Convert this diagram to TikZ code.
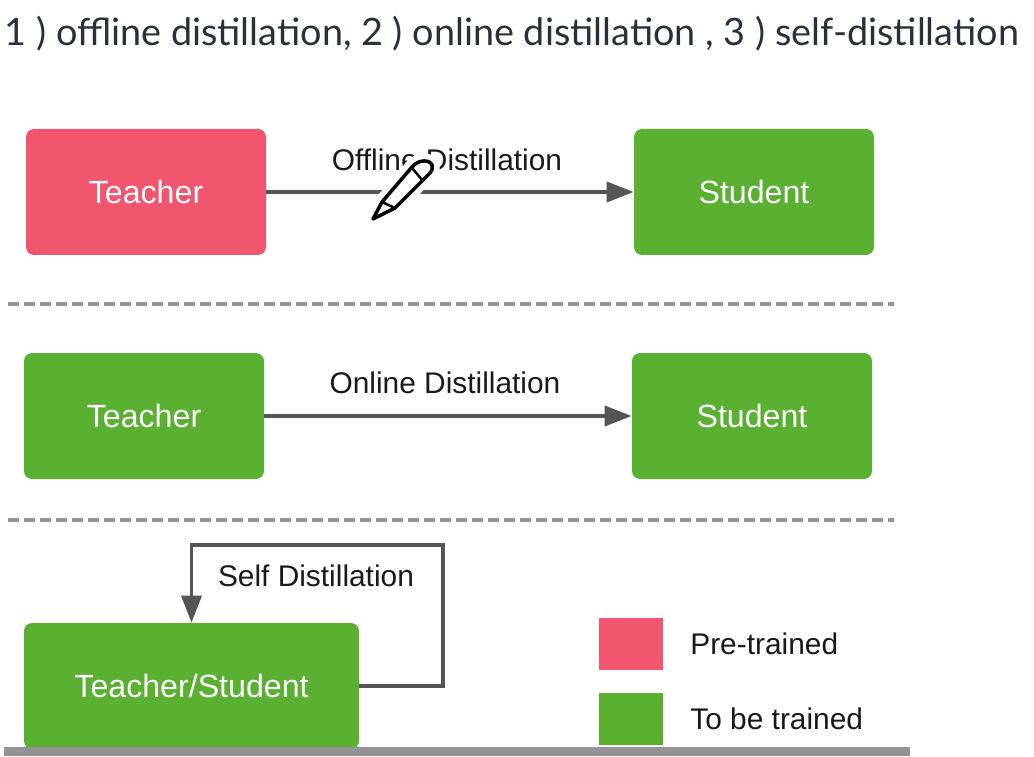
\documentclass[tikz,border=0pt]{standalone}
\usepackage{fontspec}
\setmainfont{Liberation Sans}
\newfontfamily\titlefont{Lato}
\usetikzlibrary{arrows.meta,positioning}
\definecolor{pretrained}{HTML}{F2566E}
\definecolor{totrain}{HTML}{5AB030}
\definecolor{linegray}{HTML}{555555}
\definecolor{titleink}{HTML}{2B2F3A}

\begin{document}
\begin{tikzpicture}[
    model/.style={minimum width=4.8cm, minimum height=2.52cm, rounded corners=0.16cm, inner sep=0pt, text=white, font=\fontsize{18.3}{22}\selectfont},
    swatch/.style={minimum width=1.28cm, inner sep=0pt},
    tag/.style={inner sep=0pt, font=\fontsize{17}{20}\selectfont, text=black!90},
    arr/.style={-{Triangle[length=0.54cm,width=0.4cm]}, line width=0.075cm, linegray},
    sep/.style={line width=0.07cm, gray!85, dash pattern=on 0.22cm off 0.1cm}
]
\useasboundingbox (0,0) rectangle (20.68,15.12);

\node[inner sep=0pt, text=titleink, font=\titlefont\fontsize{21.5}{26}\selectfont] (title) at (10.24,14.44) {1 ) offline distillation, 2 ) online distillation , 3 ) self-distillation};

% offline
\node[model, fill=pretrained] (teacher1) at (2.92,11.28) {Teacher};
\node[model, fill=totrain] (student1) at (15.08,11.28) {Student};
\node[tag] (label1) at (8.94,11.92) {Offline Distillation};
\draw[arr] (teacher1) -- (student1);

% pencil cursor on top of the first arrow
\newcommand{\pencilpath}{(7.46,10.74) -- (7.64,11.08) -- (8.24,11.78) .. controls (8.42,12) and (8.78,11.9) .. (8.6,11.66) -- (7.9,10.96) -- cycle}
\fill[gray!30, shift={(0.02,-0.1)}] \pencilpath;
\draw[white, line width=0.3cm, line join=round] \pencilpath;
\draw[black, fill=white, line width=0.07cm, line join=round] \pencilpath;
\draw[black, line width=0.05cm] (7.64,11.08) -- (7.9,10.96);
\draw[black, line width=0.05cm] (8.24,11.76) -- (8.46,11.5);

\coordinate (sep1a) at (0.16,9.04);
\coordinate (sep1b) at (17.88,9.04);
\draw[sep] (sep1a) -- (sep1b);

% online
\node[model, fill=totrain] (teacher2) at (2.88,6.8) {Teacher};
\node[model, fill=totrain] (student2) at (15.04,6.8) {Student};
\node[tag] (label2) at (8.9,7.46) {Online Distillation};
\draw[arr] (teacher2) -- (student2);

\coordinate (sep2a) at (0.16,4.72);
\coordinate (sep2b) at (17.88,4.72);
\draw[sep] (sep2a) -- (sep2b);

% self
\node[model, fill=totrain, minimum width=6.7cm] (both) at (3.83,1.4) {Teacher/Student};
\node[tag] (label3) at (6.32,3.6) {Self Distillation};
\coordinate (turn1) at (8.86,1.4);
\coordinate (turn2) at (8.86,4.22);
\draw[arr] (both.east) -- (turn1) -- (turn2) -- (turn2 -| both.north) -- (both.north);

% legend
\node[swatch, fill=pretrained, minimum height=1.04cm] (pre) at (12.62,2.24) {};
\node[swatch, fill=totrain, minimum height=1.04cm] (train) at (12.62,0.74) {};
\node[tag, anchor=west] (prelabel) at (13.8,2.24) {Pre-trained};
\node[tag, anchor=west] (trainlabel) at (13.8,0.74) {To be trained};

\fill[gray!85] (0.08,0) rectangle (18.2,0.18);
\end{tikzpicture}
\end{document}
